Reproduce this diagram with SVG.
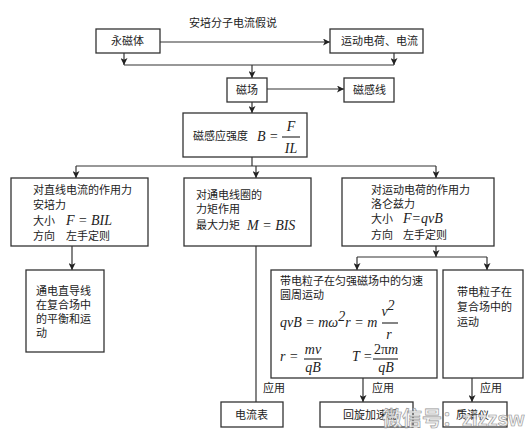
<svg xmlns="http://www.w3.org/2000/svg" width="531" height="436" viewBox="0 0 531 436">
<defs>
<style>
.box{fill:#fff;stroke:#333;stroke-width:1.3}
.ln{fill:none;stroke:#333;stroke-width:1.2}
.t{font-family:"Noto Sans CJK SC","Liberation Sans",sans-serif;font-size:11px;fill:#222}
.m{font-family:"Liberation Serif",serif;font-style:italic;font-size:14px;fill:#222}
.mn{font-family:"Liberation Serif",serif;font-size:14px;fill:#222}
.wm{font-family:"Liberation Sans","Noto Sans CJK SC",sans-serif;font-size:20px;font-weight:bold;fill:#f4f4f4;stroke:#888;stroke-width:0.6;opacity:0.92}
</style>
<marker id="ar" viewBox="0 0 8 8" refX="8" refY="4" markerWidth="7" markerHeight="7" orient="auto" markerUnits="userSpaceOnUse">
<path d="M0,0 L8,4 L0,8 L2,4 z" fill="#222"/>
</marker>
</defs>
<rect width="531" height="436" fill="#fff"/>
<text class="t" x="189" y="27">安培分子电流假说</text>
<g id="connectors">
<line class="ln" x1="160" y1="42" x2="330" y2="42" marker-end="url(#ar)"/>
<line class="ln" x1="124" y1="53" x2="124" y2="65" marker-end="url(#ar)"/>
<line class="ln" x1="394" y1="53" x2="394" y2="65" marker-end="url(#ar)"/>
<line class="ln" x1="124" y1="65" x2="394" y2="65"/>
<line class="ln" x1="252" y1="65" x2="252" y2="78" marker-end="url(#ar)"/>
<line class="ln" x1="267" y1="89" x2="344" y2="89" marker-end="url(#ar)"/>
<line class="ln" x1="252" y1="102" x2="252" y2="113" marker-end="url(#ar)"/>
<line class="ln" x1="252" y1="157" x2="252" y2="166"/>
<line class="ln" x1="76" y1="166" x2="436" y2="166"/>
<line class="ln" x1="76" y1="166" x2="76" y2="178" marker-end="url(#ar)"/>
<line class="ln" x1="256" y1="166" x2="256" y2="178" marker-end="url(#ar)"/>
<line class="ln" x1="436" y1="166" x2="436" y2="178" marker-end="url(#ar)"/>
<line class="ln" x1="72" y1="246" x2="72" y2="270" marker-end="url(#ar)"/>
<line class="ln" x1="256" y1="246" x2="256" y2="402"/>
<line class="ln" x1="436" y1="246" x2="436" y2="257" marker-end="url(#ar)"/>
<line class="ln" x1="357" y1="257" x2="487" y2="257"/>
<line class="ln" x1="357" y1="257" x2="357" y2="270" marker-end="url(#ar)"/>
<line class="ln" x1="487" y1="257" x2="487" y2="270" marker-end="url(#ar)"/>
<line class="ln" x1="363" y1="378" x2="363" y2="402" marker-end="url(#ar)"/>
<line class="ln" x1="472" y1="378" x2="472" y2="402" marker-end="url(#ar)"/>
<text class="t" x="263" y="392">应用</text>
<text class="t" x="372" y="392">应用</text>
<text class="t" x="480" y="392">应用</text>
</g>
<g id="n-yongci">
<rect class="box" x="96" y="29" width="64" height="24"/>
<text class="t" x="111" y="45">永磁体</text>
</g>
<g id="n-yundong">
<rect class="box" x="330" y="29" width="93" height="24"/>
<text class="t" x="341" y="45">运动电荷、电流</text>
</g>
<g id="n-cichang">
<rect class="box" x="227" y="78" width="40" height="24"/>
<text class="t" x="236" y="94">磁场</text>
</g>
<g id="n-ganxian">
<rect class="box" x="344" y="78" width="50" height="24"/>
<text class="t" x="353" y="94">磁感线</text>
</g>
<g id="n-B">
<rect class="box" x="183" y="113" width="124" height="44"/>
<text class="t" x="193" y="140">磁感应强度</text>
<text class="m" x="257" y="141">B<tspan class="mn"> =</tspan></text>
<text class="m" x="291" y="131" text-anchor="middle">F</text>
<line class="ln" x1="282" y1="137" x2="300" y2="137" stroke-width="1"/>
<text class="m" x="291" y="153" text-anchor="middle">IL</text>
</g>
<g id="n-anpei">
<rect class="box" x="11" y="178" width="137" height="68"/>
<text class="t" x="33" y="194">对直线电流的作用力</text>
<text class="t" x="33" y="209">安培力</text>
<text class="t" x="33" y="225">大小</text>
<text class="m" x="66" y="225">F <tspan class="mn">=</tspan> BIL</text>
<text class="t" x="33" y="240">方向</text>
<text class="t" x="66" y="240">左手定则</text>
</g>
<g id="n-xianquan">
<rect class="box" x="184" y="178" width="127" height="68"/>
<text class="t" x="196" y="199">对通电线圈的</text>
<text class="t" x="196" y="213">力矩作用</text>
<text class="t" x="196" y="229">最大力矩</text>
<text class="m" x="247" y="230">M <tspan class="mn">=</tspan> BIS</text>
</g>
<g id="n-luolunzi">
<rect class="box" x="342" y="178" width="152" height="68"/>
<text class="t" x="371" y="194">对运动电荷的作用力</text>
<text class="t" x="371" y="208">洛仑兹力</text>
<text class="t" x="371" y="223">大小</text>
<text class="m" x="403" y="223">F<tspan class="mn">=</tspan>qvB</text>
<text class="t" x="371" y="239">方向</text>
<text class="t" x="403" y="239">左手定则</text>
</g>
<g id="n-daoxian">
<rect class="box" x="26" y="270" width="78" height="82"/>
<text class="t" x="36" y="295">通电直导线</text>
<text class="t" x="36" y="309">在复合场中</text>
<text class="t" x="36" y="323">的平衡和运</text>
<text class="t" x="36" y="337">动</text>
</g>
<g id="n-yuanzhou">
<rect class="box" x="271" y="270" width="166" height="108"/>
<text class="t" x="280" y="285">带电粒子在匀强磁场中的匀速</text>
<text class="t" x="280" y="299">圆周运动</text>
<text class="m" x="280" y="327">qvB <tspan class="mn">=</tspan> mω<tspan font-size="10" dy="-6" class="mn">2</tspan><tspan dy="6">r</tspan> <tspan class="mn">=</tspan> m</text>
<text class="m" x="388" y="316" text-anchor="middle">v<tspan class="mn" font-size="10" dy="-6">2</tspan></text>
<line class="ln" x1="382" y1="323" x2="398" y2="323" stroke-width="1"/>
<text class="m" x="389" y="339" text-anchor="middle">r</text>
<text class="m" x="280" y="361">r <tspan class="mn">=</tspan></text>
<text class="m" x="313" y="354" text-anchor="middle">mv</text>
<line class="ln" x1="304" y1="359" x2="322" y2="359" stroke-width="1"/>
<text class="m" x="313" y="372" text-anchor="middle">qB</text>
<text class="m" x="352" y="361">T<tspan class="mn"> =</tspan></text>
<text class="mn" x="386" y="354" text-anchor="middle">2π<tspan class="m">m</tspan></text>
<line class="ln" x1="373" y1="359" x2="398" y2="359" stroke-width="1"/>
<text class="m" x="386" y="372" text-anchor="middle">qB</text>
</g>
<g id="n-fuhe">
<rect class="box" x="443" y="270" width="80" height="108"/>
<text class="t" x="457" y="296">带电粒子在</text>
<text class="t" x="457" y="311">复合场中的</text>
<text class="t" x="457" y="326">运动</text>
</g>
<g id="n-dianliubiao">
<rect class="box" x="221" y="402" width="62" height="25"/>
<text class="t" x="235" y="419">电流表</text>
</g>
<g id="n-huixuan">
<rect class="box" x="320" y="402" width="93" height="25"/>
<text class="t" x="343" y="419">回旋加速器</text>
</g>
<g id="n-zhipu">
<rect class="box" x="443" y="402" width="64" height="25"/>
<text class="t" x="456" y="419">质谱仪</text>
</g>
<text class="wm" x="382" y="426">微信号：zizzsw</text>
</svg>
